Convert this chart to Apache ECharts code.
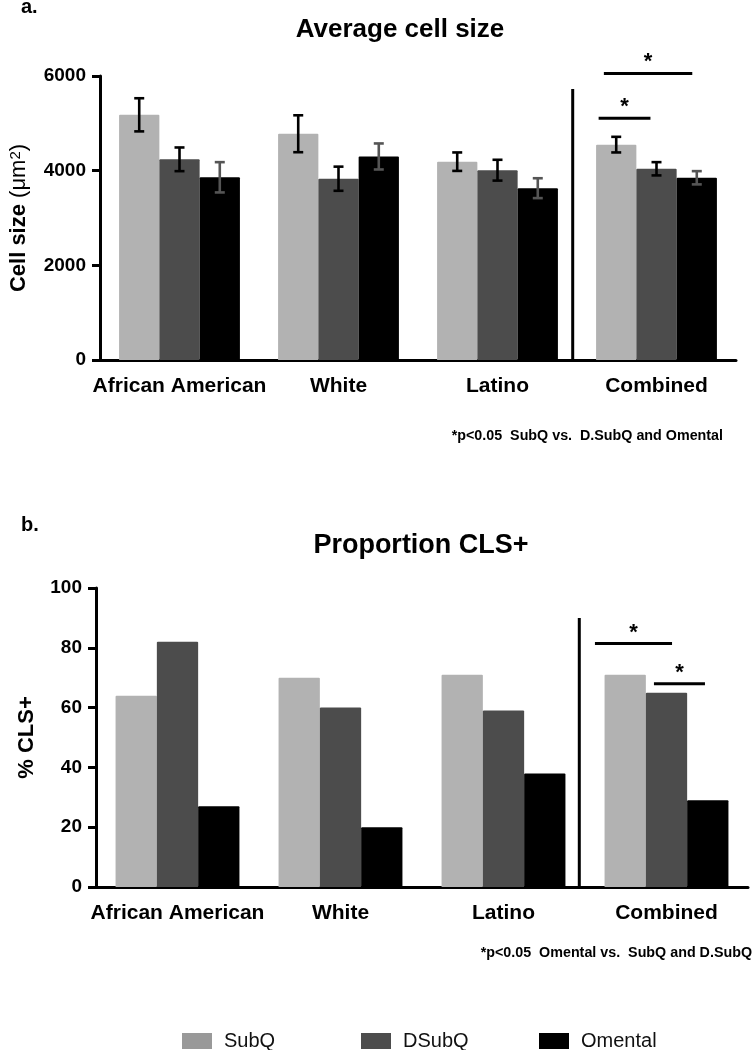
<!DOCTYPE html>
<html>
<head>
<meta charset="utf-8">
<script src="https://cdn.jsdelivr.net/npm/echarts@6/dist/echarts.min.js"></script>
<style>
  html, body { margin: 0; padding: 0; background: #fff; }
  #chart { width: 755px; height: 1050px; }
</style>
</head>
<body>
<div id="chart"></div>
<script>
// categories
const groups = ["African American", "White", "Latino", "Combined"];
const seriesNames = ["SubQ", "DSubQ", "Omental"];

// a. average cell size (um2): means and error bars
const sizeSubQ = [5180, 4780, 4190, 4550];
const sizeDSubQ = [4240, 3830, 4010, 4040];
const sizeOmental = [3860, 4300, 3630, 3850];
const errSubQ = [350, 390, 195, 165];
const errDSubQ = [250, 255, 220, 140];
const errOmental = [320, 275, 210, 140];

// b. proportion CLS+ (%)
const clsSubQ = [64, 70, 71, 71];
const clsDSubQ = [82, 60, 59, 65];
const clsOmental = [27, 20, 38, 29];

// significance bars: [category, y value, start, end] (start/end in band widths from the category centre)
const sigA = [[3, 5110, -0.364, -0.038], [3, 6055, -0.331, 0.225]];
const sigB = [[3, 81.4, -0.439, 0.034], [3, 68.0, -0.077, 0.236]];
// separator before "Combined": [category, top value, offset]
const sepA = [[3, 5725, -0.527]];
const sepB = [[3, 90, -0.535]];

const font = "Liberation Sans, Arial, sans-serif";
const colors = ["#b2b2b2", "#4c4c4c", "#000000"];
const legendColors = ["#999999", "#4d4d4d", "#000000"];
const legendLeft = [182, 361, 539];
const gapRatio = 0.24;

const chart = echarts.init(document.getElementById("chart"));

// error bar data: [category, low, high, series index]
const errData = [];
[[sizeSubQ, errSubQ], [sizeDSubQ, errDSubQ], [sizeOmental, errOmental]].forEach(([m, e], s) => {
  m.forEach((v, i) => errData.push([i, v - e[i], v + e[i], s]));
});

function renderErr(params, api) {
  const i = api.value(0);
  const s = api.value(3);
  const bw = api.size([1, 0])[0];
  const barW = bw * (1 - gapRatio) / 3;
  const x = api.coord([i, 0])[0] + (s - 1) * barW;
  const lo = api.coord([i, api.value(1)])[1];
  const hi = api.coord([i, api.value(2)])[1];
  const style = { stroke: s === 2 ? "#555" : "#000", lineWidth: 2.6 };
  return {
    type: "group",
    children: [
      { type: "line", shape: { x1: x, y1: lo, x2: x, y2: hi }, style },
      { type: "line", shape: { x1: x - 5, y1: hi, x2: x + 5, y2: hi }, style },
      { type: "line", shape: { x1: x - 5, y1: lo, x2: x + 5, y2: lo }, style },
    ],
  };
}

function renderSig(params, api) {
  const c = api.coord([api.value(0), api.value(1)]);
  const bw = api.size([1, 0])[0];
  const x0 = c[0] + api.value(2) * bw;
  const x1 = c[0] + api.value(3) * bw;
  return {
    type: "group",
    children: [
      { type: "line", shape: { x1: x0, y1: c[1], x2: x1, y2: c[1] }, style: { stroke: "#000", lineWidth: 3 } },
      {
        type: "text", x: (x0 + x1) / 2, y: c[1] - 11,
        style: { text: "*", font: "bold 22px " + font, textAlign: "center", textVerticalAlign: "middle", fill: "#000" },
      },
    ],
  };
}

function renderSep(params, api) {
  const c = api.coord([api.value(0), api.value(1)]);
  const bw = api.size([1, 0])[0];
  const x = c[0] + api.value(2) * bw;
  const y0 = api.coord([api.value(0), 0])[1];
  return { type: "line", shape: { x1: x, y1: c[1], x2: x, y2: y0 }, style: { stroke: "#000", lineWidth: 3 } };
}

const axisLine = { lineStyle: { color: "#000", width: 3 } };
const tick = { length: 8, lineStyle: { color: "#000", width: 3 } };

function xAxis(gridIndex) {
  return {
    type: "category",
    gridIndex,
    data: groups,
    axisLine,
    axisTick: Object.assign({ alignWithLabel: true }, tick),
    axisLabel: { interval: 0, margin: 16, fontSize: 21, fontWeight: "bold", color: "#000", fontFamily: font },
  };
}

function yAxis(gridIndex, max, interval, name, nameGap, rich) {
  return {
    type: "value",
    gridIndex,
    min: 0,
    max,
    interval,
    name,
    nameLocation: "middle",
    nameGap,
    nameTextStyle: { fontSize: 22, fontWeight: "bold", color: "#000", fontFamily: font, rich },
    axisLine: Object.assign({ show: true }, axisLine),
    axisTick: Object.assign({ show: true }, tick),
    splitLine: { show: false },
    axisLabel: {
      margin: 14, fontSize: 19, fontWeight: "bold", color: "#000", fontFamily: font,
      formatter: (v) => String(v),
    },
  };
}

const richA = {
  t: { fontSize: 22, fontWeight: "bold", color: "#000", fontFamily: font },
  n: { fontSize: 22, fontWeight: "normal", color: "#000", fontFamily: font },
  sup: { fontSize: 15, fontWeight: "normal", color: "#000", fontFamily: font, verticalAlign: "top" },
};

function bars(gridIndex, lists) {
  return lists.map((d, s) => ({
    name: seriesNames[s],
    type: "bar",
    xAxisIndex: gridIndex,
    yAxisIndex: gridIndex,
    data: d,
    barGap: "0%",
    barCategoryGap: gapRatio * 100 + "%",
    itemStyle: { color: colors[s], borderRadius: [1, 1, 0, 0] },
    emphasis: { disabled: true },
    silent: true,
  }));
}

function custom(gridIndex, data, renderItem, dims) {
  return {
    type: "custom",
    xAxisIndex: gridIndex,
    yAxisIndex: gridIndex,
    data,
    renderItem,
    encode: { x: 0, y: dims },
    z: 5,
    silent: true,
  };
}

const text = (t, x, y, size, align) => ({
  type: "text",
  x, y,
  style: { text: t, font: "bold " + size + "px " + font, fill: "#000", textAlign: align, textVerticalAlign: "middle" },
});

// one legend per series so the items sit at their own spots
const legends = seriesNames.map((n, s) => ({
  left: legendLeft[s],
  top: 1031,
  padding: 0,
  icon: "rect",
  itemWidth: 30,
  itemHeight: 16,
  selectedMode: false,
  data: [{ name: n, itemStyle: { color: legendColors[s] } }],
  textStyle: { fontSize: 20, color: "#111", fontFamily: font, padding: [0, 0, 0, 7] },
}));

chart.setOption({
  backgroundColor: "#fff",
  animation: false,
  grid: [
    { left: 96, top: 76, width: 640, height: 284 },
    { left: 96, top: 588, width: 652, height: 299 },
  ],
  xAxis: [xAxis(0), xAxis(1)],
  yAxis: [
    yAxis(0, 6000, 2000, "{t|Cell size }{n|(μm}{sup|2}{n|)}", 70, richA),
    yAxis(1, 100, 20, "% CLS+", 58),
  ],
  legend: legends,
  graphic: [
    text("a.", 21, 7, 20, "left"),
    text("Average cell size", 400, 30, 26, "center"),
    text("*p<0.05  SubQ vs.  D.SubQ and Omental", 723, 436, 14.3, "right"),
    text("b.", 21, 525, 20, "left"),
    text("Proportion CLS+", 421, 546, 27, "center"),
    text("*p<0.05  Omental vs.  SubQ and D.SubQ", 752, 953, 14.3, "right"),
  ],
  series: [
    ...bars(0, [sizeSubQ, sizeDSubQ, sizeOmental]),
    ...bars(1, [clsSubQ, clsDSubQ, clsOmental]),
    custom(0, errData, renderErr, [1, 2]),
    custom(0, sigA, renderSig, 1),
    custom(1, sigB, renderSig, 1),
    custom(0, sepA, renderSep, 1),
    custom(1, sepB, renderSep, 1),
  ],
});
</script>
</body>
</html>
